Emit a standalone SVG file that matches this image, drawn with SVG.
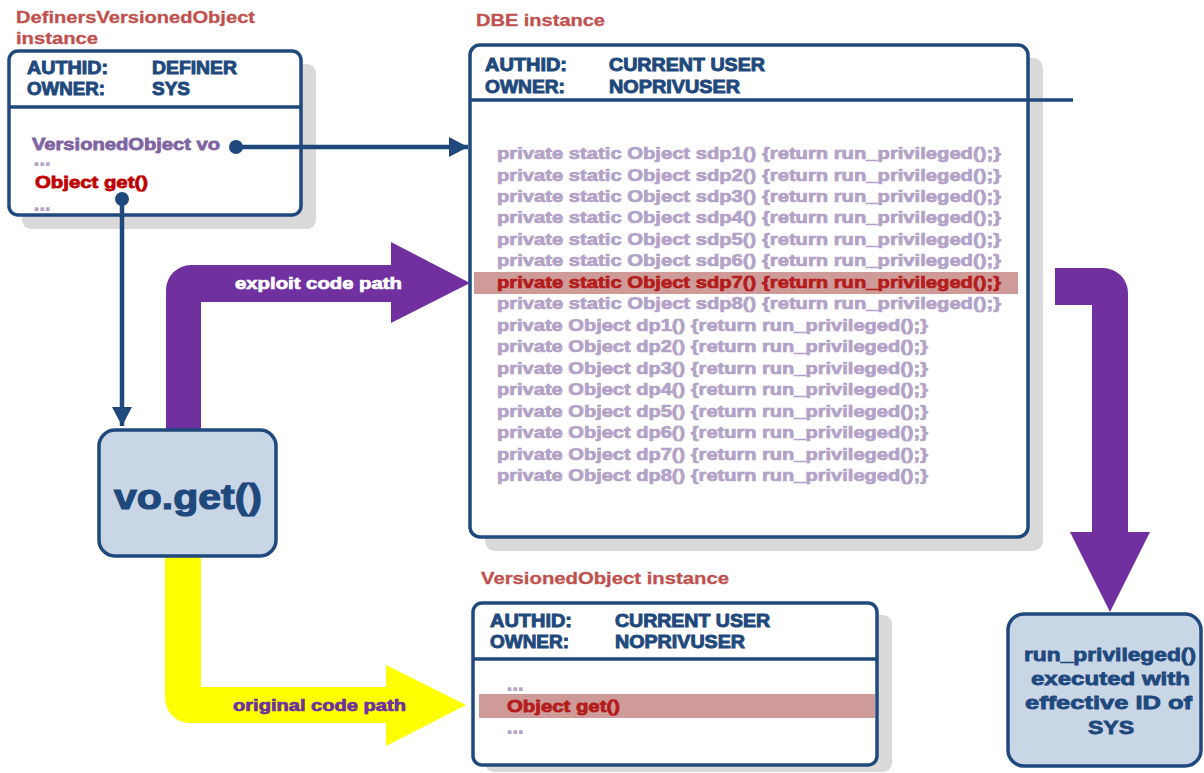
<svg xmlns="http://www.w3.org/2000/svg" width="1204" height="773" viewBox="0 0 1204 773">
<style>
text{font-family:"Liberation Sans",Arial,sans-serif;font-weight:bold;}
.title{font-size:17px;fill:#c0504d;stroke:#c0504d;stroke-width:0.3;}
.hdr{font-size:17.5px;fill:#1f497d;stroke:#1f497d;stroke-width:0.9;}
.box{fill:#ffffff;stroke:#1f497d;stroke-width:3.5;}
.shadow{fill:#d9d9d9;}
.div{stroke:#1f497d;stroke-width:3.5;fill:none;}
.lst{font-size:16.5px;fill:#b3a2c7;stroke:#b3a2c7;stroke-width:0.7;}
.hot{fill:#b41c1c;stroke:#b41c1c;}
.red{font-size:17px;fill:#c00000;stroke:#c00000;stroke-width:0.8;}
.dots{font-size:11px;fill:#b3a2c7;stroke:#b3a2c7;stroke-width:2;letter-spacing:2.6px;}
.hl{fill:#cf9b98;}
.bubble{fill:#c8d6e6;stroke:#1f497d;stroke-width:3.5;}
.conn{stroke:#1f497d;stroke-width:4.5;fill:none;}
</style>
<defs>
<marker id="ah" markerWidth="20" markerHeight="20" refX="19" refY="10" orient="auto" markerUnits="userSpaceOnUse"><path d="M0,0 L19,10 L0,20 Z" fill="#1f497d"/></marker>
</defs>

<g id="definers-box">
<text class="title" x="16" y="23" textLength="239" lengthAdjust="spacingAndGlyphs">DefinersVersionedObject</text>
<text class="title" x="16" y="44" textLength="82" lengthAdjust="spacingAndGlyphs">instance</text>
<rect class="shadow" x="22" y="64" width="294" height="165" rx="9"/>
<rect class="box" x="9" y="51" width="292" height="164" rx="9"/>
<line class="div" x1="9" y1="107" x2="301" y2="107"/>
<text class="hdr" x="27" y="74" textLength="81" lengthAdjust="spacingAndGlyphs">AUTHID:</text>
<text class="hdr" x="152" y="74" textLength="85" lengthAdjust="spacingAndGlyphs">DEFINER</text>
<text class="hdr" x="27" y="95" textLength="78" lengthAdjust="spacingAndGlyphs">OWNER:</text>
<text class="hdr" x="152" y="95" textLength="38" lengthAdjust="spacingAndGlyphs">SYS</text>
<text x="32" y="150" font-size="17" fill="#8064a2" stroke="#8064a2" stroke-width="0.8" textLength="188" lengthAdjust="spacingAndGlyphs">VersionedObject vo</text>
<text class="dots" x="35" y="165">...</text>
<text class="red" x="35" y="188" textLength="113" lengthAdjust="spacingAndGlyphs">Object get()</text>
<text class="dots" x="35" y="210">...</text>
</g>

<g id="dbe-box">
<text class="title" x="476" y="26" textLength="129" lengthAdjust="spacingAndGlyphs">DBE instance</text>
<rect class="shadow" x="485" y="58" width="558" height="493" rx="10"/>
<rect class="box" x="470" y="45" width="558" height="492" rx="10"/>
<line class="div" x1="470" y1="100" x2="1073" y2="100"/>
<text class="hdr" x="485" y="71" textLength="82" lengthAdjust="spacingAndGlyphs">AUTHID:</text>
<text class="hdr" x="609" y="71" textLength="156" lengthAdjust="spacingAndGlyphs">CURRENT USER</text>
<text class="hdr" x="485" y="93" textLength="80" lengthAdjust="spacingAndGlyphs">OWNER:</text>
<text class="hdr" x="609" y="93" textLength="131" lengthAdjust="spacingAndGlyphs">NOPRIVUSER</text>
<rect class="hl" x="474" y="272" width="544" height="22"/>
<text class="lst" x="497" y="159" textLength="504" lengthAdjust="spacingAndGlyphs">private static Object sdp1() {return run_privileged();}</text>
<text class="lst" x="497" y="180.5" textLength="504" lengthAdjust="spacingAndGlyphs">private static Object sdp2() {return run_privileged();}</text>
<text class="lst" x="497" y="202" textLength="504" lengthAdjust="spacingAndGlyphs">private static Object sdp3() {return run_privileged();}</text>
<text class="lst" x="497" y="223.4" textLength="504" lengthAdjust="spacingAndGlyphs">private static Object sdp4() {return run_privileged();}</text>
<text class="lst" x="497" y="244.9" textLength="504" lengthAdjust="spacingAndGlyphs">private static Object sdp5() {return run_privileged();}</text>
<text class="lst" x="497" y="266.4" textLength="504" lengthAdjust="spacingAndGlyphs">private static Object sdp6() {return run_privileged();}</text>
<text class="lst hot" x="497" y="287.8" textLength="504" lengthAdjust="spacingAndGlyphs">private static Object sdp7() {return run_privileged();}</text>
<text class="lst" x="497" y="309.3" textLength="504" lengthAdjust="spacingAndGlyphs">private static Object sdp8() {return run_privileged();}</text>
<text class="lst" x="497" y="330.8" textLength="431" lengthAdjust="spacingAndGlyphs">private Object dp1() {return run_privileged();}</text>
<text class="lst" x="497" y="352.2" textLength="431" lengthAdjust="spacingAndGlyphs">private Object dp2() {return run_privileged();}</text>
<text class="lst" x="497" y="373.7" textLength="431" lengthAdjust="spacingAndGlyphs">private Object dp3() {return run_privileged();}</text>
<text class="lst" x="497" y="395.2" textLength="431" lengthAdjust="spacingAndGlyphs">private Object dp4() {return run_privileged();}</text>
<text class="lst" x="497" y="416.6" textLength="431" lengthAdjust="spacingAndGlyphs">private Object dp5() {return run_privileged();}</text>
<text class="lst" x="497" y="438.1" textLength="431" lengthAdjust="spacingAndGlyphs">private Object dp6() {return run_privileged();}</text>
<text class="lst" x="497" y="459.6" textLength="431" lengthAdjust="spacingAndGlyphs">private Object dp7() {return run_privileged();}</text>
<text class="lst" x="497" y="481" textLength="431" lengthAdjust="spacingAndGlyphs">private Object dp8() {return run_privileged();}</text>
</g>

<g id="versioned-box">
<text class="title" x="481" y="584" textLength="248" lengthAdjust="spacingAndGlyphs">VersionedObject instance</text>
<rect class="shadow" x="485" y="615" width="407" height="157" rx="9"/>
<rect class="box" x="473" y="603" width="404" height="162" rx="9"/>
<line class="div" x1="473" y1="659" x2="877" y2="659"/>
<text class="hdr" x="490" y="627" textLength="82" lengthAdjust="spacingAndGlyphs">AUTHID:</text>
<text class="hdr" x="615" y="627" textLength="155" lengthAdjust="spacingAndGlyphs">CURRENT USER</text>
<text class="hdr" x="490" y="648" textLength="79" lengthAdjust="spacingAndGlyphs">OWNER:</text>
<text class="hdr" x="615" y="648" textLength="130" lengthAdjust="spacingAndGlyphs">NOPRIVUSER</text>
<text class="dots" x="508" y="690">...</text>
<rect class="hl" x="479" y="694" width="396" height="24"/>
<text class="red" x="507" y="712" style="fill:#b41c1c;stroke:#b41c1c" textLength="113" lengthAdjust="spacingAndGlyphs">Object get()</text>
<text class="dots" x="508" y="733">...</text>
</g>

<g id="connectors">
<path d="M166,430 L166,290 A25,25 0 0 1 191,265 L391,265 L391,242 L470,283 L391,323 L391,302 L201,302 L201,430 Z" fill="#7030a0"/>
<text x="235" y="289" font-size="16" fill="#ffffff" stroke="#ffffff" stroke-width="0.7" textLength="167" lengthAdjust="spacingAndGlyphs">exploit code path</text>
<path d="M165,557 L165,698 A25,25 0 0 0 190,723 L386,723 L386,746 L466,705 L386,665 L386,687 L201,687 L201,557 Z" fill="#ffff00"/>
<text x="233" y="711" font-size="16" fill="#7030a0" stroke="#7030a0" stroke-width="0.7" textLength="173" lengthAdjust="spacingAndGlyphs">original code path</text>
<path d="M1055,268 L1103,268 A25,25 0 0 1 1128,293 L1128,532 L1150,532 L1110,612 L1070,532 L1092,532 L1092,305 L1055,305 Z" fill="#7030a0"/>
<circle cx="236" cy="147" r="7" fill="#1f497d"/>
<line class="conn" x1="236" y1="147" x2="468" y2="147" marker-end="url(#ah)"/>
<circle cx="122" cy="199" r="7" fill="#1f497d"/>
<line class="conn" x1="122" y1="199" x2="122" y2="426" marker-end="url(#ah)"/>
</g>

<g id="vo-get">
<rect class="bubble" x="99" y="430" width="177" height="126" rx="16"/>
<text x="114" y="509" font-size="35" fill="#1f497d" stroke="#1f497d" stroke-width="1.2" textLength="148" lengthAdjust="spacingAndGlyphs">vo.get()</text>
</g>

<g id="run-privileged">
<rect class="bubble" x="1008" y="614" width="193" height="152" rx="16"/>
<g font-size="19" fill="#1f497d" stroke="#1f497d" stroke-width="0.8">
<text x="1024" y="661" textLength="172" lengthAdjust="spacingAndGlyphs">run_privileged()</text>
<text x="1031" y="685" textLength="159" lengthAdjust="spacingAndGlyphs">executed with</text>
<text x="1025" y="709" textLength="167" lengthAdjust="spacingAndGlyphs">effective ID of</text>
<text x="1088" y="734" textLength="46" lengthAdjust="spacingAndGlyphs">SYS</text>
</g>
</g>
</svg>
